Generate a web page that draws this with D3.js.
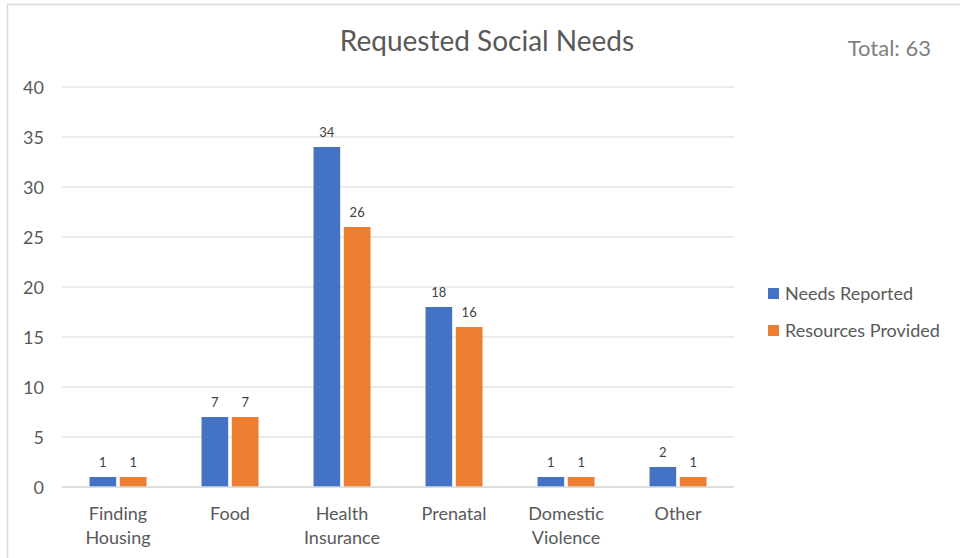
<!DOCTYPE html>
<html><head><meta charset="utf-8">
<script src="https://cdn.jsdelivr.net/npm/d3@7"></script>
<style>body{margin:0;background:#fff;}svg{display:block;font-family:Lato,"Open Sans",sans-serif;}</style>
</head><body>
<svg id="c" width="960" height="558"></svg>
<script>
const categories = [["Finding","Housing"],["Food"],["Health","Insurance"],["Prenatal"],["Domestic","Violence"],["Other"]];
const seriesNames = ["Needs Reported","Resources Provided"];
const needsReported = [1,7,34,18,1,2];
const resourcesProvided = [1,7,26,16,1,1];
const yTicks = [0,5,10,15,20,25,30,35,40];
const colors = ["#4472C4","#ED7D31"];
const title = "Requested Social Needs";
const totalLabel = "Total: 63";

const svg = d3.select("#c");
svg.append("rect").attr("x",7.5).attr("y",4.5).attr("width",1000).attr("height",1000)
  .attr("fill","#fff").attr("stroke","#d9d9d9").attr("stroke-width",1.5);

const x0 = d3.scaleBand().domain(d3.range(categories.length)).range([62,734]);
const x1 = d3.scaleBand().domain([0,1]).range([0, 57]).paddingInner(0.12);
const y = d3.scaleLinear().domain([0,40]).range([487,87]);

// gridlines
svg.append("g").selectAll("line").data(yTicks).join("line")
  .attr("x1",62).attr("x2",734).attr("y1",d=>y(d)).attr("y2",d=>y(d))
  .attr("stroke","#d9d9d9").attr("stroke-width",1);

// y tick labels
svg.append("g").selectAll("text").data(yTicks).join("text")
  .attr("x",44).attr("y",d=>y(d)+6.5).attr("text-anchor","end")
  .attr("font-size",18).attr("fill","#595959").text(d=>d);

const series = [needsReported, resourcesProvided];
const bars = svg.append("g");
series.forEach((vals,si)=>{
  const g = bars.append("g");
  g.selectAll("rect").data(vals).join("rect")
    .attr("x",(d,i)=>x0(i)+(x0.bandwidth()-57)/2 + x1(si))
    .attr("width",x1.bandwidth())
    .attr("y",d=>y(d)).attr("height",d=>y(0)-y(d))
    .attr("fill",colors[si]);
  g.selectAll("text").data(vals).join("text")
    .attr("x",(d,i)=>x0(i)+(x0.bandwidth()-57)/2 + x1(si)+x1.bandwidth()/2)
    .attr("y",d=>y(d)-10).attr("text-anchor","middle")
    .attr("font-size",13).attr("fill","#404040").text(d=>d);
});

// axis line
svg.append("line").attr("x1",62).attr("x2",734).attr("y1",y(0)).attr("y2",y(0))
  .attr("stroke","#d9d9d9").attr("stroke-width",1.5);

// category labels
const cl = svg.append("g").selectAll("text").data(categories).join("text")
  .attr("x",(d,i)=>x0(i)+x0.bandwidth()/2).attr("y",520)
  .attr("text-anchor","middle").attr("font-size",18).attr("fill","#595959");
cl.each(function(d,i){
  d3.select(this).selectAll("tspan").data(d).join("tspan")
    .attr("x",x0(i)+x0.bandwidth()/2).attr("dy",(t,j)=>j===0?0:24).text(t=>t);
});

svg.append("text").attr("x",487).attr("y",51).attr("text-anchor","middle")
  .attr("font-size",28).attr("fill","#595959").text(title);
svg.append("text").attr("x",931).attr("y",56).attr("text-anchor","end")
  .attr("font-size",22).attr("fill","#7f7f7f").text(totalLabel);

const leg = svg.append("g").selectAll("g").data(seriesNames).join("g")
  .attr("transform",(d,i)=>`translate(768,${288+i*37})`);
leg.append("rect").attr("width",11).attr("height",11).attr("fill",(d,i)=>colors[i]);
leg.append("text").attr("x",17).attr("y",12).attr("font-size",18).attr("fill","#595959").text(d=>d);
</script>
</body></html>
